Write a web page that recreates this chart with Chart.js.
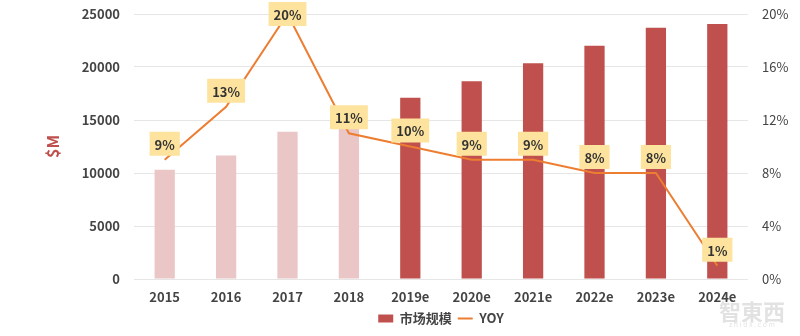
<!DOCTYPE html>
<html>
<head>
<meta charset="utf-8">
<script src="https://cdn.jsdelivr.net/npm/chart.js@4.4.0/dist/chart.umd.min.js"></script>
<style>
  html, body { margin: 0; padding: 0; background: #fff; }
  .chart-container { position: relative; width: 800px; height: 336px; }
</style>
</head>
<body>
<div class="chart-container"><canvas id="chart"></canvas></div>
<script>
const years = ['2015', '2016', '2017', '2018', '2019e', '2020e', '2021e', '2022e', '2023e', '2024e'];
const marketSize = [10300, 11650, 13900, 14300, 17100, 18650, 20350, 22000, 23700, 24050];
const yoy = [9, 13, 20, 11, 10, 9, 9, 8, 8, 1];
const forecastFrom = 4;

const pastColor = '#eac6c6';
const forecastColor = '#c0504d';
const lineColor = '#ed7d31';
const fontFamily = "'Noto Sans CJK SC', 'Noto Sans', sans-serif";

// yellow boxes with the YOY values, drawn above each point
const yoyLabels = {
  id: 'yoyLabels',
  afterDatasetsDraw(chart) {
    const meta = chart.getDatasetMeta(0);
    const ctx = chart.ctx;
    ctx.save();
    ctx.font = 'bold 13px ' + fontFamily;
    ctx.textAlign = 'center';
    ctx.textBaseline = 'middle';
    meta.data.forEach((pt, i) => {
      const text = yoy[i] + '%';
      const w = ctx.measureText(text).width + 10;
      const h = 24;
      const y = Math.max(pt.y - 16, chart.chartArea.top);
      ctx.fillStyle = '#fde39d';
      ctx.fillRect(pt.x - w / 2, y - h / 2, w, h);
      ctx.fillStyle = '#333';
      ctx.fillText(text, pt.x, y + 1);
    });
    ctx.restore();
  },
  afterDraw(chart) {
    // faint watermark
    const ctx = chart.ctx;
    ctx.save();
    ctx.textAlign = 'center';
    ctx.fillStyle = 'rgba(190, 190, 190, 0.45)';
    ctx.font = 'bold 22px ' + fontFamily;
    ctx.fillText('智東西', 752, 312);
    ctx.font = '7px ' + fontFamily;
    ctx.fillText('z h i d x . c o m', 752, 324);
    ctx.restore();
  }
};

const noPad = s => { s.paddingTop = 0; s.paddingBottom = 0; };

const ctx = document.getElementById('chart').getContext('2d');

new Chart(ctx, {
  data: {
    labels: years,
    datasets: [
      {
        type: 'line',
        label: 'YOY',
        data: yoy,
        yAxisID: 'y1',
        borderColor: lineColor,
        backgroundColor: lineColor,
        borderWidth: 2,
        pointRadius: 0,
        pointStyle: 'line',
        tension: 0,
      },
      {
        type: 'bar',
        label: '市场规模',
        data: marketSize,
        yAxisID: 'y',
        backgroundColor: years.map((y, i) => i < forecastFrom ? pastColor : forecastColor),
        categoryPercentage: 1,
        barPercentage: 0.33,
        pointStyle: 'rect',
      },
    ],
  },
  options: {
    responsive: true,
    maintainAspectRatio: false,
    animation: false,
    layout: { padding: { top: 14, bottom: 1, left: 0, right: 0 } },
    scales: {
      x: {
        grid: { display: false, drawTicks: false },
        border: { display: false },
        ticks: { color: '#444', font: { family: fontFamily, size: 13, weight: 'bold' }, padding: 10 },
        afterFit: s => { s.height = 27; },
      },
      y: {
        position: 'left',
        min: 0,
        max: 25000,
        ticks: {
          stepSize: 5000,
          callback: v => String(v),
          color: '#444',
          font: { family: fontFamily, size: 13, weight: 'bold' },
          padding: 14,
        },
        grid: { color: '#e6e6e6', drawTicks: false },
        border: { display: false },
        title: {
          display: true,
          text: '$M',
          color: forecastColor,
          font: { family: fontFamily, size: 16, weight: 'bold' },
          padding: { top: 43 },
        },
        afterFit: s => { s.width = 134; noPad(s); },
      },
      y1: {
        position: 'right',
        min: 0,
        max: 20,
        ticks: { stepSize: 4, callback: v => v + '%', color: '#444', font: { family: fontFamily, size: 13 }, padding: 14 },
        grid: { drawOnChartArea: false, drawTicks: false },
        border: { display: false },
        afterFit: s => { s.width = 52; noPad(s); },
      },
    },
    plugins: {
      legend: {
        position: 'bottom',
        fullSize: false,
        labels: {
          usePointStyle: true,
          boxWidth: 15,
          boxHeight: 8,
          pointStyleWidth: 15,
          padding: 6,
          color: '#444',
          font: { family: fontFamily, size: 13, weight: 'bold' },
          generateLabels: chart => {
            const items = Chart.defaults.plugins.legend.labels.generateLabels(chart);
            items.forEach(it => {
              if (it.datasetIndex === 1) {
                it.fillStyle = forecastColor;
                it.strokeStyle = forecastColor;
                it.lineWidth = 0;
              }
            });
            return items.reverse();
          },
        },
      },
      tooltip: { enabled: false },
    },
  },
  plugins: [yoyLabels],
});
</script>
</body>
</html>
